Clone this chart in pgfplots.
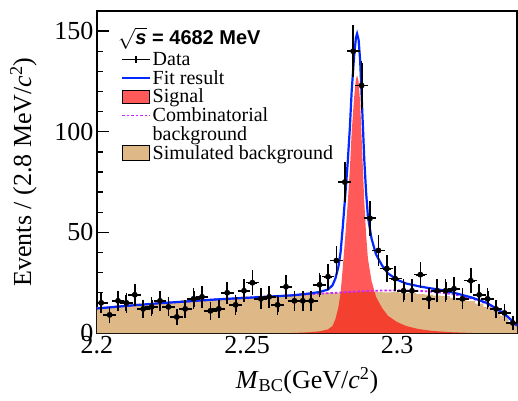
\documentclass[border=0pt]{standalone}
\usepackage{fontspec}
\setmainfont{Liberation Serif}
\setsansfont{Liberation Sans}
\usepackage{pgfplots}
\pgfplotsset{compat=1.18}
\usepackage{pgfplotstable}

\definecolor{simbkg}{RGB}{222,184,135}
\definecolor{fitblue}{RGB}{0,40,255}
\definecolor{combmag}{RGB}{200,40,255}

% data: bin centre, events, stat. error
\pgfplotstableread{
x n ey
2.2014 15 3.87
2.2042 9 3.00
2.2070 16 4.00
2.2098 15 3.87
2.2126 19 4.36
2.2154 12 3.46
2.2182 13 3.61
2.2210 16 4.00
2.2238 13 3.61
2.2266 8 2.83
2.2294 12 3.46
2.2322 17 4.12
2.2350 18 4.24
2.2378 11 3.32
2.2406 12 3.46
2.2434 20 4.47
2.2462 14 3.74
2.2490 21 4.58
2.2518 25 5.00
2.2546 17 4.12
2.2574 18 4.24
2.2602 14 3.74
2.2630 23 4.80
2.2658 16 4.00
2.2686 16 4.00
2.2714 16 4.00
2.2742 24 4.90
2.2770 28 5.29
2.2798 36 6.00
2.2826 75 8.66
2.2854 140 11.83
2.2882 123 11.09
2.2910 57 7.55
2.2938 41 6.40
2.2966 32 5.66
2.2994 27 5.20
2.3022 21 4.58
2.3050 21 4.58
2.3078 29 5.39
2.3106 17 4.12
2.3134 21 4.58
2.3162 21 4.58
2.3190 22 4.69
2.3218 17 4.12
2.3246 26 5.10
2.3274 19 4.36
2.3302 17 4.12
2.3330 12 3.46
2.3358 10 3.16
2.3386 5 2.24
}\datatab

% simulated background histogram (left bin edges)
\pgfplotstableread{
x y
2.2000 13.0
2.2028 12.4
2.2056 13.6
2.2084 13.9
2.2112 14.6
2.2140 14.0
2.2168 14.9
2.2196 15.6
2.2224 15.0
2.2252 15.9
2.2280 16.3
2.2308 15.9
2.2336 16.7
2.2364 16.3
2.2392 17.2
2.2420 17.5
2.2448 17.1
2.2476 18.1
2.2504 17.9
2.2532 18.4
2.2560 18.1
2.2588 18.8
2.2616 18.5
2.2644 19.2
2.2672 19.0
2.2700 19.6
2.2728 19.5
2.2756 20.1
2.2784 19.9
2.2812 20.5
2.2840 20.3
2.2868 20.6
2.2896 20.5
2.2924 20.4
2.2952 20.2
2.2980 20.3
2.3008 19.8
2.3036 19.9
2.3064 19.3
2.3092 19.1
2.3120 18.6
2.3148 18.3
2.3176 17.5
2.3204 16.8
2.3232 15.9
2.3260 14.6
2.3288 13.0
2.3316 11.2
2.3344 8.6
2.3372 5.2
2.3400 5.2
}\simtab

% combinatorial background
\pgfplotstableread{
x y
2.200 12.2
2.205 12.9
2.210 13.5
2.215 14.1
2.220 14.7
2.225 15.2
2.230 15.7
2.235 16.2
2.240 16.7
2.245 17.1
2.250 17.5
2.255 17.9
2.260 18.3
2.265 18.7
2.270 19.2
2.275 19.6
2.280 20.0
2.285 20.5
2.290 20.9
2.295 21.1
2.300 21.2
2.305 21.1
2.310 20.7
2.315 20.0
2.320 18.9
2.325 17.2
2.330 14.6
2.334 11.3
2.337 7.9
2.340 3.6
}\combtab

% signal shape
\pgfplotstableread{
x y
2.2650 0
2.2700 0.3
2.2740 0.8
2.2770 1.8
2.2785 3.5
2.2795 7
2.2805 13
2.2812 20
2.2819 32
2.2828 49
2.2836 65
2.2843 82
2.2849 100
2.2857 117
2.2863 126
2.2867 128
2.2872 125
2.2877 115
2.2881 101
2.2886 83
2.2891 65
2.2897 49
2.2903 37
2.2915 26
2.2930 18
2.2950 12.5
2.2970 8.5
2.3000 5.5
2.3030 3.5
2.3070 2
2.3120 1
2.3180 0.4
2.3250 0
}\sigtab

% total fit
\pgfplotstableread{
x y
2.200 12.2
2.210 13.5
2.220 14.7
2.230 15.7
2.240 16.7
2.250 17.5
2.260 18.3
2.265 18.7
2.270 19.5
2.274 20.3
2.277 21.6
2.2785 23.7
2.2795 27.2
2.2805 33.2
2.2812 40.2
2.2819 52.2
2.2828 69.3
2.2836 85.4
2.2843 102.4
2.2849 120.4
2.2857 137.5
2.2863 146.6
2.2867 148.7
2.2872 145.7
2.2877 135.8
2.2881 121.8
2.2886 103.9
2.2891 85.9
2.2897 69.9
2.2903 57.9
2.2915 47.0
2.2930 39.1
2.2950 33.6
2.2970 29.6
2.3000 26.5
2.3030 24.6
2.3070 23.3
2.3100 22.5
2.3150 21.3
2.3200 19.6
2.3250 17.6
2.3300 14.9
2.3340 11.4
2.3370 8.0
2.3400 3.7
}\fittab

\begin{document}
\begin{tikzpicture}
\begin{axis}[
    width=420pt, height=322pt, scale only axis,
    xmin=2.2, xmax=2.34, ymin=0, ymax=160,
    xtick={2.2,2.25,2.3}, minor x tick num=4,
    ytick={0,50,100,150}, minor y tick num=4,
    xtick pos=bottom, ytick pos=left, tick align=inside,
    major tick length=12pt, minor tick length=6pt,
    axis line style={line width=1.6pt},
    tick style={black, line width=1.4pt},
    /pgf/number format/assume math mode=true,
    xticklabel style={/pgf/number format/fixed, /pgf/number format/precision=2},
    tick label style={font=\fontsize{26}{28}\selectfont},
    label style={font=\fontsize{26}{28}\selectfont},
    xlabel={\textit{M}\textsubscript{BC}(GeV/\textit{c}\textsuperscript{2})},
    ylabel={Events / (2.8 MeV/\textit{c}\textsuperscript{2})},
    xlabel style={yshift=-6pt},
    ylabel style={yshift=11pt},
    legend style={draw=none, fill=none, at={(0.05,0.885)}, anchor=north west,
        font=\fontsize{20}{21}\selectfont, row sep=-0.6pt},
    legend cell align=left,
    every legend image post/.append style={xscale=1.6},
]
\addplot[fill=simbkg, draw=none, const plot mark left, forget plot] table[x=x, y=y] {\simtab} \closedcycle;
\addplot[fill=red, fill opacity=0.65, draw=none, forget plot] table[x=x, y=y] {\sigtab} \closedcycle;
\addplot[combmag, line width=1.8pt, dash pattern=on 2.5pt off 2pt, forget plot] table[x=x, y=y] {\combtab};
\addplot[fitblue, line width=2.2pt, forget plot] table[x=x, y=y] {\fittab};
\addplot[black, line width=1.8pt, only marks, mark=*, mark size=2pt, forget plot,
    error bars/.cd, x dir=both, x fixed=0.0014, y dir=both, y explicit,
    error bar style={black, line width=1.8pt},
    error mark options={black, mark size=2.2pt, line width=1.6pt}]
    table[x=x, y=n, y error=ey] {\datatab};

\addlegendimage{black, line width=1.6pt, mark=|, mark size=3.5pt}
\addlegendentry{Data}
\addlegendimage{fitblue, line width=2.2pt}
\addlegendentry{Fit result}
\addlegendimage{area legend, fill=red, fill opacity=0.65, draw=none, yscale=2.4}
\addlegendentry{Signal}
\addlegendimage{combmag, line width=1.8pt, dash pattern=on 2.5pt off 2pt}
\addlegendentry{Combinatorial}
\addlegendimage{empty legend}
\addlegendentry{background}
\addlegendimage{area legend, fill=simbkg, draw=none, yscale=2.6}
\addlegendentry{Simulated background}

\node[anchor=west, inner sep=0pt, font=\fontsize{20}{22}\selectfont\sffamily\bfseries]
    at (rel axis cs:0.05,0.915) {$\sqrt{\textit{s}}$ = 4682 MeV};
\end{axis}
\path (current axis.south west) ++(-97pt,-67pt) coordinate (bbsw);
\path (current axis.north east) ++(1pt,11pt) coordinate (bbne);
\pgfresetboundingbox
\path[use as bounding box] (bbsw) rectangle (bbne);
\end{tikzpicture}
\end{document}
